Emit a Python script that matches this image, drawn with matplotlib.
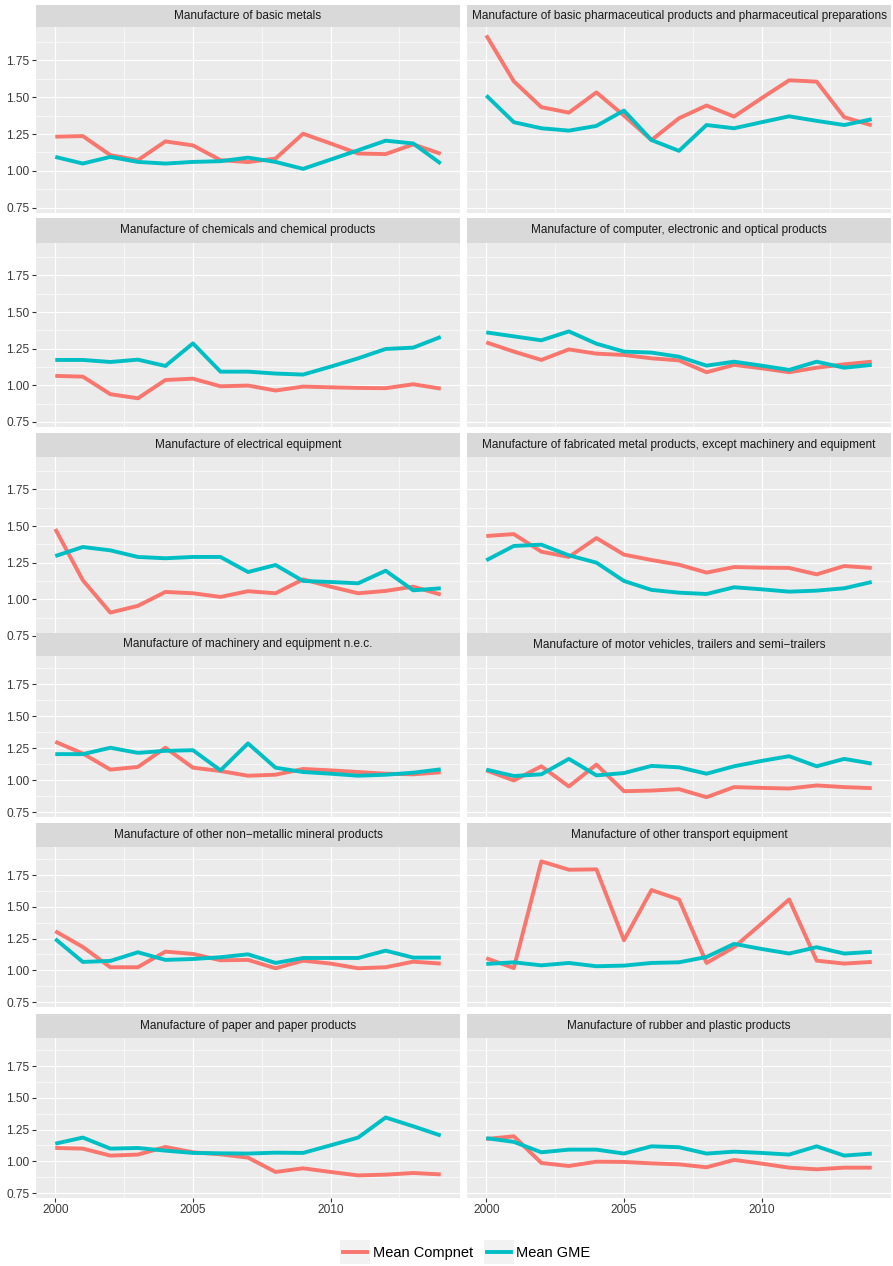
import matplotlib
matplotlib.use('Agg')
import matplotlib.pyplot as plt
from matplotlib.lines import Line2D
from matplotlib.patches import Rectangle
import numpy as np

plt.rcParams['font.family'] = ['Liberation Sans', 'DejaVu Sans']

years = list(range(2000, 2015))

sectors = [
    "Manufacture of basic metals",
    "Manufacture of basic pharmaceutical products and pharmaceutical preparations",
    "Manufacture of chemicals and chemical products",
    "Manufacture of computer, electronic and optical products",
    "Manufacture of electrical equipment",
    "Manufacture of fabricated metal products, except machinery and equipment",
    "Manufacture of machinery and equipment n.e.c.",
    "Manufacture of motor vehicles, trailers and semi\u2212trailers",
    "Manufacture of other non\u2212metallic mineral products",
    "Manufacture of other transport equipment",
    "Manufacture of paper and paper products",
    "Manufacture of rubber and plastic products",
]

compnet = [
    [1.232, 1.236, 1.107, 1.073, 1.200, 1.173, 1.073, 1.060, 1.084, 1.252, 1.186, 1.118, 1.114, 1.180, 1.116],
    [1.918, 1.607, 1.432, 1.395, 1.532, 1.375, 1.209, 1.357, 1.443, 1.368, 1.493, 1.614, 1.605, 1.364, 1.309],
    [1.064, 1.059, 0.939, 0.911, 1.036, 1.045, 0.993, 0.998, 0.964, 0.991, 0.986, 0.982, 0.980, 1.007, 0.977],
    [1.293, 1.230, 1.173, 1.245, 1.216, 1.207, 1.184, 1.170, 1.089, 1.139, 1.116, 1.089, 1.120, 1.143, 1.161],
    [1.480, 1.130, 0.909, 0.955, 1.050, 1.041, 1.016, 1.055, 1.041, 1.136, 1.086, 1.041, 1.057, 1.086, 1.032],
    [1.432, 1.445, 1.325, 1.289, 1.418, 1.305, 1.268, 1.236, 1.182, 1.220, 1.216, 1.214, 1.170, 1.227, 1.214],
    [1.300, 1.208, 1.082, 1.103, 1.253, 1.097, 1.071, 1.034, 1.042, 1.087, 1.076, 1.063, 1.050, 1.045, 1.061],
    [1.076, 0.997, 1.108, 0.950, 1.121, 0.913, 0.918, 0.929, 0.866, 0.945, 0.939, 0.934, 0.958, 0.945, 0.937],
    [1.308, 1.184, 1.024, 1.024, 1.147, 1.129, 1.079, 1.082, 1.016, 1.076, 1.053, 1.016, 1.024, 1.068, 1.053],
    [1.095, 1.018, 1.858, 1.792, 1.795, 1.237, 1.632, 1.558, 1.058, 1.182, 1.368, 1.558, 1.076, 1.053, 1.066],
    [1.105, 1.100, 1.045, 1.053, 1.113, 1.071, 1.055, 1.029, 0.916, 0.945, 0.916, 0.889, 0.895, 0.908, 0.897],
    [1.176, 1.197, 0.987, 0.963, 0.997, 0.995, 0.984, 0.976, 0.953, 1.011, 0.982, 0.950, 0.937, 0.950, 0.950],
]

gme = [
    [1.095, 1.050, 1.095, 1.061, 1.050, 1.061, 1.066, 1.090, 1.061, 1.014, 1.077, 1.140, 1.205, 1.186, 1.050],
    [1.511, 1.330, 1.289, 1.273, 1.305, 1.409, 1.209, 1.136, 1.311, 1.289, 1.330, 1.370, 1.339, 1.311, 1.350],
    [1.173, 1.173, 1.159, 1.175, 1.132, 1.286, 1.093, 1.093, 1.080, 1.073, 1.127, 1.184, 1.248, 1.257, 1.330],
    [1.361, 1.334, 1.307, 1.368, 1.284, 1.230, 1.223, 1.195, 1.134, 1.161, 1.134, 1.105, 1.161, 1.120, 1.139],
    [1.295, 1.357, 1.334, 1.289, 1.280, 1.289, 1.289, 1.186, 1.234, 1.125, 1.118, 1.109, 1.195, 1.061, 1.075],
    [1.266, 1.364, 1.373, 1.300, 1.250, 1.125, 1.064, 1.045, 1.036, 1.082, 1.068, 1.052, 1.059, 1.075, 1.118],
    [1.203, 1.203, 1.253, 1.213, 1.229, 1.234, 1.076, 1.287, 1.097, 1.063, 1.050, 1.034, 1.042, 1.058, 1.084],
    [1.082, 1.032, 1.045, 1.166, 1.037, 1.055, 1.111, 1.100, 1.050, 1.108, 1.150, 1.187, 1.108, 1.166, 1.129],
    [1.247, 1.066, 1.074, 1.142, 1.082, 1.089, 1.103, 1.126, 1.058, 1.097, 1.097, 1.097, 1.155, 1.100, 1.100],
    [1.050, 1.063, 1.039, 1.058, 1.032, 1.037, 1.058, 1.063, 1.105, 1.208, 1.168, 1.132, 1.182, 1.132, 1.145],
    [1.139, 1.187, 1.100, 1.105, 1.084, 1.066, 1.063, 1.061, 1.068, 1.066, 1.126, 1.187, 1.345, 1.276, 1.203],
    [1.182, 1.153, 1.071, 1.092, 1.092, 1.061, 1.118, 1.111, 1.061, 1.076, 1.066, 1.053, 1.118, 1.045, 1.061],
]

series_names = ["Mean Compnet", "Mean GME"]
series_colors = ["#F8766D", "#00BFC4"]

W, H = 893, 1266
fig = plt.figure(figsize=(W / 100, H / 100), dpi=100)
fig.patch.set_facecolor('white')

# panel geometry in pixels: columns (left, right), rows (strip top, panel top, panel bottom)
cols = [(36, 460), (467, 891)]
rows = [(5, 27, 213), (218, 242.5, 427), (433, 456.5, 641),
        (633, 655.5, 816.5), (823, 846.5, 1006.5), (1014, 1037.5, 1197.5)]


def px_rect(x0, x1, top, bottom):
    return [x0 / W, 1 - bottom / H, (x1 - x0) / W, (bottom - top) / H]


for i, name in enumerate(sectors):
    r, c = divmod(i, 2)
    x0, x1 = cols[c]
    s_top, p_top, p_bot = rows[r]

    ax = fig.add_axes(px_rect(x0, x1, p_top, p_bot))
    ax.set_facecolor('#EBEBEB')
    for sp in ax.spines.values():
        sp.set_visible(False)

    ax.plot(years, compnet[i], color=series_colors[0], lw=2.8, solid_capstyle='butt')
    ax.plot(years, gme[i], color=series_colors[1], lw=2.8, solid_capstyle='butt')

    ax.set_xlim(1999.3, 2014.7)
    ax.set_ylim(0.715, 1.975)
    ax.set_xticks([2000, 2005, 2010])
    ax.set_xticks([2002.5, 2007.5, 2012.5], minor=True)
    ax.set_yticks([0.75, 1.00, 1.25, 1.50, 1.75])
    ax.set_yticks([0.875, 1.125, 1.375, 1.625, 1.875], minor=True)
    ax.grid(True, which='major', color='white', lw=0.85)
    ax.grid(True, which='minor', color='white', lw=0.45)
    ax.set_axisbelow(True)

    ax.tick_params(which='minor', length=0)
    ax.tick_params(which='major', length=2.6, width=0.8, color='#333333',
                   labelsize=8.6, labelcolor='#3A3A3A', pad=2)
    ax.yaxis.set_major_formatter(plt.FuncFormatter(lambda v, p: f"{v:.2f}"))
    if c != 0:
        ax.tick_params(axis='y', left=False, labelleft=False)
    if r != len(rows) - 1:
        ax.tick_params(axis='x', bottom=False, labelbottom=False)

    # facet strip
    sax = fig.add_axes(px_rect(x0, x1, s_top, p_top))
    sax.set_facecolor('#D9D9D9')
    sax.set_xticks([])
    sax.set_yticks([])
    for sp in sax.spines.values():
        sp.set_visible(False)
    sax.text(0.5, 0.5, name, ha='center', va='center', fontsize=8.5,
             color='#1A1A1A', transform=sax.transAxes)

handles = [Line2D([], [], color=col, lw=2.8) for col in series_colors]
leg = fig.legend(handles, series_names, loc='center', ncol=2,
                 bbox_to_anchor=(467 / W, 1 - 1253 / H), frameon=False,
                 fontsize=10.5, handlelength=1.6, handletextpad=0.4,
                 columnspacing=1.0)

# light grey key boxes behind the legend lines
fig.canvas.draw()
for h in leg.legend_handles:
    bb = h.get_window_extent(fig.canvas.get_renderer())
    cx, cy = (bb.x0 + bb.x1) / 2, (bb.y0 + bb.y1) / 2
    kw, kh = 30, 24
    fig.patches.append(Rectangle(((cx - kw / 2) / W, (cy - kh / 2) / H), kw / W, kh / H,
                                 transform=fig.transFigure, facecolor='#F2F2F2',
                                 edgecolor='none', zorder=0))

fig.savefig('out.png', dpi=100, facecolor='white')
